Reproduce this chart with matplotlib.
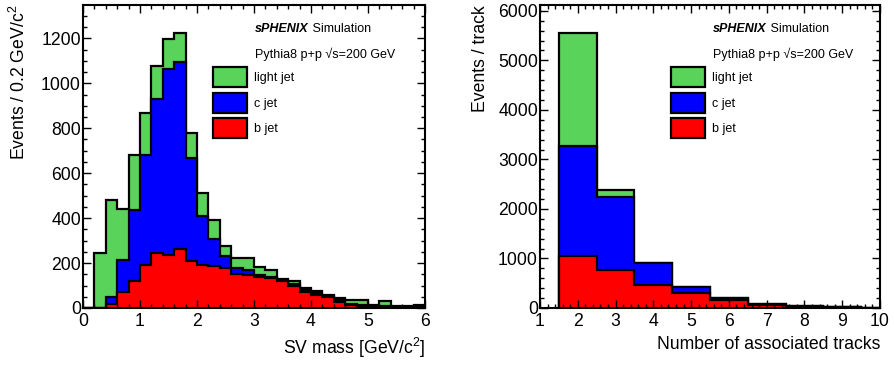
"""
Distribuições empilhadas (b, c e light jets) da massa do SV e do número de
traços associados, no estilo sPHENIX/ROOT.
"""

import numpy as np
import matplotlib.pyplot as plt
from matplotlib.patches import Patch
from matplotlib.ticker import MultipleLocator

plt.rcParams["font.family"] = ["Liberation Sans", "DejaVu Sans"]
plt.rcParams["mathtext.fontset"] = "custom"
plt.rcParams["mathtext.rm"] = "Liberation Sans"
plt.rcParams["mathtext.it"] = "Liberation Sans:italic"

# massa do SV: 30 bins de 0.2 GeV/c^2 entre 0 e 6
massa_bordas = np.round(np.linspace(0, 6, 31), 2)
massa_b = [0, 0, 18, 73, 120, 192, 244, 237, 262, 207, 192, 187, 180, 152, 147,
           140, 132, 118, 98, 73, 58, 48, 28, 13, 6, 3, 3, 2, 1, 1]
massa_c = [0, 0, 33, 141, 314, 487, 687, 828, 835, 461, 216, 120, 52, 28, 23,
           7, 8, 2, 7, 5, 7, 4, 7, 7, 6, 5, 5, 2, 2, 2]
massa_light = [0, 247, 428, 228, 245, 187, 146, 131, 129, 109, 104, 86, 46, 42, 52,
               35, 30, 8, 15, 10, 12, 8, 11, 16, 24, 7, 23, 5, 6, 9]

# número de traços associados: bins unitários centrados em 2..10
tracos_bordas = np.arange(1.5, 11.0, 1.0)
tracos_b = [1040, 770, 466, 297, 162, 62, 30, 12, 4]
tracos_c = [2240, 1471, 434, 133, 33, 23, 12, 4, 1]
tracos_light = [2282, 149, 5, 0, 5, 5, 3, 2, 1]

rotulos = ["light jet", "c jet", "b jet"]
cores = ["#5ad35a", "#0000ff", "#ff0000"]

TAM_TICK = 12.7
TAM_TITULO = 12.7
TAM_TEXTO = 9
LW = 1.6


def configurar_eixo(ax, xlim, ymax, x_maior, x_menor, y_maior, y_menor):
    """Ticks para dentro nos quatro lados, como no estilo ROOT."""
    ax.set_xlim(*xlim)
    ax.set_ylim(0, ymax)
    ax.xaxis.set_major_locator(MultipleLocator(x_maior))
    ax.xaxis.set_minor_locator(MultipleLocator(x_menor))
    ax.yaxis.set_major_locator(MultipleLocator(y_maior))
    ax.yaxis.set_minor_locator(MultipleLocator(y_menor))
    ax.tick_params(which="both", direction="in", top=True, right=True,
                   width=1.0, labelsize=TAM_TICK)
    ax.tick_params(which="major", length=5.5)
    ax.tick_params(which="minor", length=2.8)
    ax.tick_params(axis="x", pad=3.5)
    ax.tick_params(axis="y", pad=1.5)
    for s in ax.spines.values():
        s.set_linewidth(1.5)


def plotar_empilhado(ax, bordas, b, c, light):
    """Desenha o empilhamento: total (verde), c+b (azul) e b (vermelho)."""
    b = np.asarray(b, dtype=float)
    c = np.asarray(c, dtype=float)
    light = np.asarray(light, dtype=float)
    camadas = [b + c + light, b + c, b]
    for valores, cor in zip(camadas, cores):
        ax.stairs(valores, bordas, fill=True, facecolor=cor,
                  edgecolor="black", linewidth=LW)
    return (b + c + light).max()


def adicionar_textos(ax, x_texto, x_leg):
    t1 = ax.text(x_texto, 0.922, "sPHENIX", transform=ax.transAxes,
                 fontsize=TAM_TEXTO, fontweight="bold", fontstyle="italic",
                 va="center", ha="left")
    ax.annotate(" Simulation", xy=(1, 0.5), xycoords=t1, va="center",
                ha="left", fontsize=TAM_TEXTO)
    ax.text(x_texto, 0.838, "Pythia8 p+p √s=200 GeV", transform=ax.transAxes,
            fontsize=TAM_TEXTO, va="center", ha="left")
    handles = [Patch(facecolor=cor, edgecolor="black", linewidth=LW)
               for cor in cores]
    ax.legend(handles, rotulos, loc="upper left", bbox_to_anchor=(x_leg, 0.795),
              frameon=False, fontsize=TAM_TEXTO, handlelength=2.7,
              handleheight=2.08, labelspacing=0.44, handletextpad=0.6,
              borderpad=0, borderaxespad=0)


fig = plt.figure(figsize=(8.94, 3.65), dpi=100)
ax1 = fig.add_axes([83 / 894, 57 / 365, 342 / 894, 303 / 365])
ax2 = fig.add_axes([540 / 894, 57 / 365, 340 / 894, 303 / 365])

# painel esquerdo: massa do SV
topo = plotar_empilhado(ax1, massa_bordas, massa_b, massa_c, massa_light)
configurar_eixo(ax1, (0, 6), topo * 1.1, 1, 0.2, 200, 50)
ax1.set_xlabel("SV mass [GeV/c$^{2}$]", loc="right", fontsize=TAM_TITULO)
ax1.set_ylabel("Events / 0.2 GeV/c$^{2}$", loc="top", fontsize=TAM_TITULO)
ax1.xaxis.set_label_coords(1.0, -0.092)
ax1.yaxis.set_label_coords(-0.158, 1.0)
adicionar_textos(ax1, 0.503, 0.380)

# painel direito: número de traços
topo = plotar_empilhado(ax2, tracos_bordas, tracos_b, tracos_c, tracos_light)
configurar_eixo(ax2, (1, 10), topo * 1.1, 1, 0.2, 1000, 200)
ax2.set_xlabel("Number of associated tracks", loc="right", fontsize=TAM_TITULO)
ax2.set_ylabel("Events / track", loc="top", fontsize=TAM_TITULO)
ax2.xaxis.set_label_coords(1.0, -0.092)
ax2.yaxis.set_label_coords(-0.15, 1.0)
adicionar_textos(ax2, 0.509, 0.385)

fig.savefig("out.png", dpi=100)
